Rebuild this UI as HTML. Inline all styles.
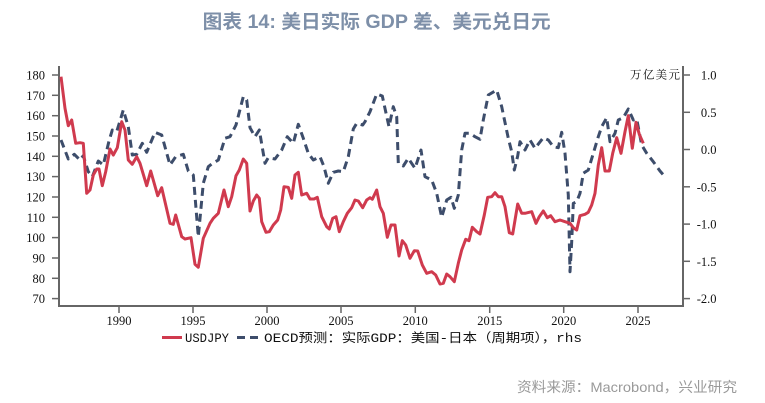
<!DOCTYPE html>
<html><head><meta charset="utf-8"><style>
html,body{margin:0;padding:0;background:#fff;}
svg{display:block;}
</style></head><body>
<svg width="765" height="403" viewBox="0 0 765 403" xmlns="http://www.w3.org/2000/svg">
<rect width="765" height="403" fill="#fff"/>
<text x="202.7" y="28" font-family="Liberation Sans, Noto Sans CJK SC, sans-serif" font-weight="bold" font-size="19" fill="#7d8fa8" textLength="348" lengthAdjust="spacingAndGlyphs">图表 14: 美日实际 GDP 差、美元兑日元</text>

<!-- axes -->
<g stroke="#666" stroke-width="2" fill="none">
<polyline points="59,66 59,306 683,306 683,66"/>
</g>
<g stroke="#666" stroke-width="1.5">
<line x1="52" y1="75" x2="59" y2="75"/>
<line x1="52" y1="95.3" x2="59" y2="95.3"/>
<line x1="52" y1="115.7" x2="59" y2="115.7"/>
<line x1="52" y1="136" x2="59" y2="136"/>
<line x1="52" y1="156.3" x2="59" y2="156.3"/>
<line x1="52" y1="176.6" x2="59" y2="176.6"/>
<line x1="52" y1="197" x2="59" y2="197"/>
<line x1="52" y1="217.3" x2="59" y2="217.3"/>
<line x1="52" y1="237.6" x2="59" y2="237.6"/>
<line x1="52" y1="258" x2="59" y2="258"/>
<line x1="52" y1="278.3" x2="59" y2="278.3"/>
<line x1="52" y1="298.6" x2="59" y2="298.6"/>
<line x1="683" y1="75" x2="690" y2="75"/>
<line x1="683" y1="112.3" x2="690" y2="112.3"/>
<line x1="683" y1="149.5" x2="690" y2="149.5"/>
<line x1="683" y1="186.8" x2="690" y2="186.8"/>
<line x1="683" y1="224.1" x2="690" y2="224.1"/>
<line x1="683" y1="261.3" x2="690" y2="261.3"/>
<line x1="683" y1="298.6" x2="690" y2="298.6"/>
<line x1="119" y1="306" x2="119" y2="313"/>
<line x1="193" y1="306" x2="193" y2="313"/>
<line x1="267" y1="306" x2="267" y2="313"/>
<line x1="341" y1="306" x2="341" y2="313"/>
<line x1="415.3" y1="306" x2="415.3" y2="313"/>
<line x1="489.7" y1="306" x2="489.7" y2="313"/>
<line x1="563.7" y1="306" x2="563.7" y2="313"/>
<line x1="638" y1="306" x2="638" y2="313"/>
</g>

<g font-family="Liberation Serif, serif" font-size="12.5" fill="#111" text-anchor="end">
<text x="45" y="79.5">180</text>
<text x="45" y="99.8">170</text>
<text x="45" y="120.2">160</text>
<text x="45" y="140.5">150</text>
<text x="45" y="160.8">140</text>
<text x="45" y="181.1">130</text>
<text x="45" y="201.5">120</text>
<text x="45" y="221.8">110</text>
<text x="45" y="242.1">100</text>
<text x="45" y="262.5">90</text>
<text x="45" y="282.8">80</text>
<text x="45" y="303.1">70</text>
<text x="716.5" y="79.5">1.0</text>
<text x="716.5" y="116.8">0.5</text>
<text x="716.5" y="154">0.0</text>
<text x="716.5" y="191.3">-0.5</text>
<text x="716.5" y="228.6">-1.0</text>
<text x="716.5" y="265.8">-1.5</text>
<text x="716.5" y="303.1">-2.0</text>
</g>
<g font-family="Liberation Serif, serif" font-size="12.5" fill="#111" text-anchor="middle">
<text x="119" y="325">1990</text>
<text x="193" y="325">1995</text>
<text x="267" y="325">2000</text>
<text x="341" y="325">2005</text>
<text x="415.3" y="325">2010</text>
<text x="489.7" y="325">2015</text>
<text x="563.7" y="325">2020</text>
<text x="638" y="325">2025</text>
</g>
<text x="630" y="78.5" font-family="Noto Serif CJK SC, serif" font-size="11.5" fill="#111" textLength="50" lengthAdjust="spacing">万亿美元</text>

<!-- dashed series -->
<polyline fill="none" stroke="#3d4d6b" stroke-width="3" stroke-dasharray="8,5" stroke-linejoin="round" points="61,140 68.3,159 74.3,154.3 80,160 83.3,155.7 88.3,171.7 92.3,176.7 98.3,161 103.3,165 109,141 112.3,130 116.7,131.7 123.3,110 128.3,126.7 132.3,155 136.7,154.3 142.3,143.3 146.7,152.3 155,132.3 161.7,135 170,165 175.7,156.7 183.3,154.3 188.3,171 193.3,175 198.3,236.7 203.3,183.3 208.3,166.7 211.7,164 218.3,160 225,138.3 230,136.7 236,125 243.3,96.7 246.7,100 250,127.7 255,136.7 259.3,130 265,163.3 268.3,157.7 275,159 281.7,150 287.3,136.7 293.3,143.3 298.3,124.3 303.3,138.3 308.3,153.3 313.3,160 320,156.7 324,166.7 328.3,183.3 333.3,172.3 338.3,171 343.3,171.7 348.3,156.7 353.3,129 356.7,123.3 362.7,125 365,121.7 370,111.7 376.7,94 382.3,96 385.7,111.7 389,126.7 393.3,106.7 396.7,116.7 398.3,163.3 403.3,166 408.3,158.3 415,168.3 421,150 425,176.7 431.7,180 436.7,193.3 441.7,217.3 446.7,200 451,197.3 454.3,208.3 458.3,195 461.7,150 465,133.3 470,133.3 475,136.7 480,139.3 483.3,120 488.3,95 496.7,90 501.7,106.7 508.3,138.3 511.7,151.7 514.3,170 517.7,156 520,141.7 525,150 530,140 535,148.3 543.3,137.7 548.3,140 553.3,146.7 558.3,147.7 561.7,132.3 565,153.3 568.3,195 570,271.7 571.7,241.7 573.3,203.3 576.7,201.7 580,193.3 583.3,173.3 588.3,170 593.3,153.3 598.3,136.7 601.7,126.7 606.7,117.7 610,141.7 615,133.3 618.3,120 623.3,117.7 628.3,109 633.3,120 636.7,119 641.7,145 646.7,153.3 653.3,161.7 660,171 665,176.7"/>

<!-- red series -->
<polyline fill="none" stroke="#d03a4e" stroke-width="3" stroke-linejoin="round" points="61,76.7 65,108.3 68.3,125.7 71.7,120 75.7,143.3 80,142.7 83.3,143.3 86.7,193.3 90,190 93.3,175 96.7,169 99,169 102.3,185.7 105.7,171.7 110,149 113.3,155 117.3,147.7 121.7,121.7 125,130 128.3,160 132.3,164.3 136.7,156.7 140,163.3 146.7,185.7 150.7,171 157.7,195.7 161.7,187.7 170,223.3 173.3,224.3 175.7,215 181.7,236.7 185,239 191,237.7 195,264.3 198.3,267.3 203.3,238.3 210,223.3 213.3,218.3 218.3,213.3 224,190 228.3,206.7 231.7,196.7 236,175.7 239.3,170 243.3,159 246.7,163.3 250,211 253.3,201 256.7,195 259.3,198.3 261.7,221.7 266,232.3 269.3,231.7 273.3,225 277.7,220 280.7,210 284,186.7 288.3,187.3 291.7,198.3 295,175 298.3,172.3 301.7,195 306.7,193.3 310,199 314,199 317.3,197.3 321.7,216.7 326.7,226.7 329.3,229 332.7,218.3 336,216.7 339.3,231.7 343.3,221.7 347.3,213.3 351.7,207.7 355,200 358.3,201 362.7,207.7 366.7,200 370,197.7 372.3,199.3 376.7,190 380,206.7 383.3,213.3 387.3,237.3 391,225 395,225 399,256 402.3,240.7 405.7,245 410,258.3 414.3,250.7 417.7,251 422.3,265 426.7,273.3 431.7,271.7 435.7,275 440,284 443.3,283.3 446.7,274 450,276.7 454.3,281.7 458.3,263.3 461.7,250 465.7,239.3 469,240.7 472.3,227.3 476.7,231.7 480,234 484.3,215 487.7,197.3 491.7,196.7 495,192.7 498.3,196.7 501.7,196.7 505,206.7 509.3,232.7 512.7,234 517.7,204 521.7,213.3 525,213.3 531.7,211.7 536,223.3 539.3,216.7 543.3,211 547.3,217.7 550.7,215.7 555,221.7 560,220 565,221.7 570,223.3 573.3,227.7 576.7,230 580,215.7 585,214.3 588.3,212.3 591.7,205 595,193.3 598.3,165 601.7,147.7 605,171 609.3,171 612.7,153.3 616.7,137.7 621,153.3 625,131.7 628.3,115.7 632.3,148.3 636,122.3 639.3,134.3 643.3,143.3"/>

<!-- legend -->
<line x1="162" y1="337.5" x2="182" y2="337.5" stroke="#d03a4e" stroke-width="3"/>
<text x="185" y="342" font-family="Liberation Mono, Noto Sans CJK SC, monospace" font-size="12.5" fill="#111" textLength="44" lengthAdjust="spacingAndGlyphs">USDJPY</text>
<line x1="237" y1="337.5" x2="262" y2="337.5" stroke="#3d4d6b" stroke-width="3" stroke-dasharray="8,5"/>
<text x="264" y="342" font-family="Liberation Mono, Noto Sans CJK SC, monospace" font-size="12.5" fill="#111" textLength="318" lengthAdjust="spacingAndGlyphs">OECD预测：实际GDP：美国-日本（周期项），rhs</text>

<text x="517" y="392" font-family="Liberation Sans, Noto Sans CJK SC, sans-serif" font-size="14" fill="#9a9a9a" textLength="220" lengthAdjust="spacingAndGlyphs">资料来源：Macrobond，兴业研究</text>
</svg>
</body></html>
